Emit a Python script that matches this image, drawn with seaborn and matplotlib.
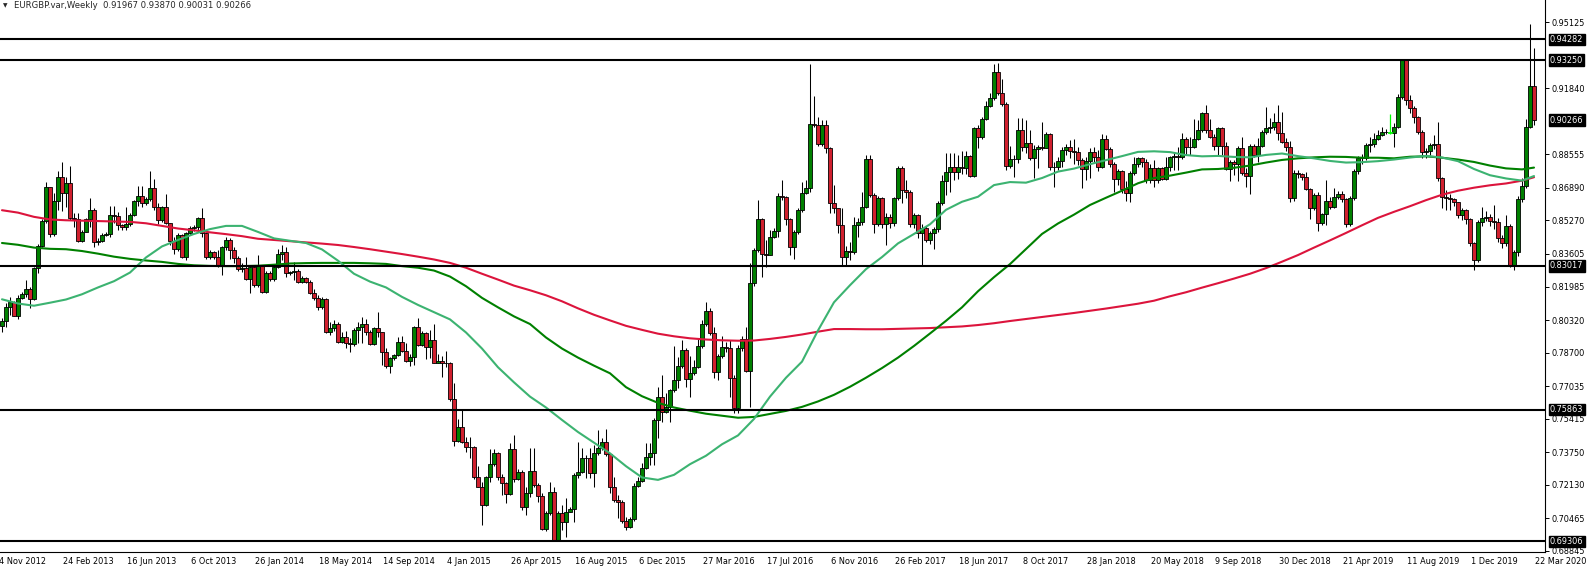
import numpy as np
import pandas as pd
import matplotlib
matplotlib.use("Agg")
import matplotlib.pyplot as plt
import matplotlib.transforms as mtransforms
import seaborn as sns

# weekly EURGBP bars, first visible bar = 0, last bar (22 Mar 2020) = 383
first_open = 0.8004
closes = [
    0.8027, 0.8095, 0.8120, 0.8053, 0.8140, 0.8161, 0.8185, 0.8136, 0.8289, 0.8402,
    0.8526, 0.8692, 0.8460, 0.8624, 0.8741, 0.8662, 0.8712, 0.8541, 0.8536, 0.8426,
    0.8471, 0.8533, 0.8579, 0.8418, 0.8425, 0.8455, 0.8460, 0.8554, 0.8550, 0.8504,
    0.8493, 0.8508, 0.8554, 0.8624, 0.8650, 0.8612, 0.8634, 0.8687, 0.8596, 0.8529,
    0.8592, 0.8513, 0.8426, 0.8383, 0.8455, 0.8347, 0.8463, 0.8491, 0.8496, 0.8538,
    0.8463, 0.8344, 0.8370, 0.8344, 0.8301, 0.8397, 0.8430, 0.8380, 0.8342, 0.8284,
    0.8292, 0.8238, 0.8294, 0.8206, 0.8300, 0.8173, 0.8267, 0.8234, 0.8297, 0.8360,
    0.8372, 0.8264, 0.8269, 0.8278, 0.8223, 0.8239, 0.8223, 0.8165, 0.8143, 0.8095,
    0.8135, 0.7971, 0.7991, 0.8011, 0.7924, 0.7946, 0.7919, 0.7911, 0.7982, 0.7996,
    0.8011, 0.7974, 0.7913, 0.7991, 0.7971, 0.7875, 0.7805, 0.7841, 0.7858, 0.7924,
    0.7879, 0.7830, 0.7846, 0.7999, 0.7908, 0.7969, 0.7900, 0.7933, 0.7820, 0.7826,
    0.7820, 0.7818, 0.7638, 0.7432, 0.7498, 0.7427, 0.7402, 0.7399, 0.7250, 0.7203,
    0.7112, 0.7250, 0.7314, 0.7369, 0.7250, 0.7223, 0.7165, 0.7389, 0.7240, 0.7278,
    0.7104, 0.7170, 0.7281, 0.7211, 0.7159, 0.6993, 0.7071, 0.7175, 0.6938, 0.7071,
    0.7029, 0.7079, 0.7091, 0.7261, 0.7274, 0.7344, 0.7346, 0.7273, 0.7369, 0.7394,
    0.7424, 0.7366, 0.7200, 0.7137, 0.7129, 0.7032, 0.7004, 0.7042, 0.7207, 0.7231,
    0.7294, 0.7349, 0.7369, 0.7535, 0.7651, 0.7576, 0.7601, 0.7684, 0.7734, 0.7803,
    0.7883, 0.7737, 0.7770, 0.7797, 0.7903, 0.8012, 0.8077, 0.7969, 0.7775, 0.7853,
    0.7896, 0.7893, 0.7745, 0.7593, 0.7891, 0.7936, 0.7780, 0.8214, 0.8380, 0.8534,
    0.8359, 0.8357, 0.8445, 0.8476, 0.8649, 0.8645, 0.8533, 0.8394, 0.8468, 0.8579,
    0.8665, 0.8687, 0.9005, 0.9002, 0.8906, 0.9002, 0.8886, 0.8612, 0.8587, 0.8504,
    0.8344, 0.8375, 0.8368, 0.8504, 0.8517, 0.8596, 0.8831, 0.8654, 0.8508, 0.8637,
    0.8508, 0.8546, 0.8513, 0.8637, 0.8790, 0.8679, 0.8667, 0.8508, 0.8554, 0.8466,
    0.8488, 0.8430, 0.8463, 0.8483, 0.8616, 0.8723, 0.8766, 0.8795, 0.8770, 0.8793,
    0.8788, 0.8848, 0.8748, 0.8985, 0.8941, 0.9032, 0.9096, 0.9134, 0.9267, 0.9163,
    0.9106, 0.8798, 0.8833, 0.8832, 0.8977, 0.8891, 0.8914, 0.8836, 0.8882, 0.8891,
    0.8889, 0.8957, 0.8791, 0.8794, 0.8823, 0.8877, 0.8894, 0.8874, 0.8869, 0.8828,
    0.8783, 0.8824, 0.8869, 0.8841, 0.8794, 0.8930, 0.8882, 0.8808, 0.8732, 0.8773,
    0.8682, 0.8665, 0.8765, 0.8806, 0.8836, 0.8819, 0.8728, 0.8786, 0.8728, 0.8786,
    0.8732, 0.8794, 0.8841, 0.8846, 0.8844, 0.8930, 0.8894, 0.8892, 0.8930, 0.8977,
    0.9060, 0.8977, 0.8940, 0.8897, 0.8985, 0.8897, 0.8781, 0.8816, 0.8808, 0.8886,
    0.8765, 0.8748, 0.8897, 0.8853, 0.8897, 0.8969, 0.8985, 0.8990, 0.9015, 0.8960,
    0.8919, 0.8890, 0.8639, 0.8761, 0.8756, 0.8745, 0.8683, 0.8591, 0.8654, 0.8513,
    0.8557, 0.8624, 0.8595, 0.8645, 0.8659, 0.8634, 0.8508, 0.8640, 0.8773, 0.8836,
    0.8839, 0.8902, 0.8905, 0.8932, 0.8952, 0.8969, 0.8965, 0.8962, 0.8993, 0.9143,
    0.9325, 0.9126, 0.9085, 0.9040, 0.8969, 0.8869, 0.8872, 0.8902, 0.8905, 0.8740,
    0.8645, 0.8640, 0.8634, 0.8617, 0.8554, 0.8579, 0.8534, 0.8413, 0.8330, 0.8521,
    0.8541, 0.8546, 0.8526, 0.8521, 0.8441, 0.8413, 0.8498, 0.8305, 0.8368, 0.8634,
    0.8700, 0.8993, 0.91967, 0.90266,
]
highs = [
    0.8040, 0.8115, 0.8148, 0.8125, 0.8156, 0.8170, 0.8231, 0.8198, 0.8297, 0.8410,
    0.8535, 0.8720, 0.8695, 0.8662, 0.8775, 0.8816, 0.8745, 0.8800, 0.8562, 0.8562,
    0.8480, 0.8541, 0.8637, 0.8587, 0.8440, 0.8465, 0.8468, 0.8599, 0.8599, 0.8570,
    0.8508, 0.8592, 0.8562, 0.8629, 0.8698, 0.8698, 0.8645, 0.8773, 0.8733, 0.8612,
    0.8600, 0.8659, 0.8516, 0.8446, 0.8465, 0.8462, 0.8471, 0.8500, 0.8505, 0.8546,
    0.8587, 0.8470, 0.8380, 0.8375, 0.8380, 0.8400, 0.8443, 0.8438, 0.8397, 0.8350,
    0.8314, 0.8347, 0.8306, 0.8300, 0.8355, 0.8305, 0.8275, 0.8275, 0.8305, 0.8383,
    0.8405, 0.8397, 0.8278, 0.8318, 0.8285, 0.8250, 0.8248, 0.8230, 0.8185, 0.8156,
    0.8145, 0.8140, 0.8024, 0.8032, 0.8020, 0.7974, 0.7979, 0.7941, 0.7991, 0.8024,
    0.8045, 0.8035, 0.7982, 0.7996, 0.8073, 0.7974, 0.7891, 0.7850, 0.7865, 0.7949,
    0.7952, 0.7916, 0.7863, 0.8002, 0.8040, 0.7975, 0.7974, 0.7982, 0.8012, 0.7863,
    0.7853, 0.7878, 0.7825, 0.7717, 0.7540, 0.7585, 0.7452, 0.7449, 0.7405, 0.7306,
    0.7225, 0.7258, 0.7389, 0.7389, 0.7377, 0.7266, 0.7228, 0.7420, 0.7460, 0.7290,
    0.7286, 0.7203, 0.7394, 0.7394, 0.7220, 0.7170, 0.7080, 0.7225, 0.7203, 0.7080,
    0.7112, 0.7145, 0.7100, 0.7269, 0.7424, 0.7394, 0.7361, 0.7394, 0.7410, 0.7485,
    0.7444, 0.7490, 0.7369, 0.7253, 0.7162, 0.7137, 0.7054, 0.7054, 0.7220, 0.7253,
    0.7319, 0.7419, 0.7419, 0.7543, 0.7701, 0.7759, 0.7671, 0.7687, 0.7903, 0.7850,
    0.7933, 0.7891, 0.7853, 0.7833, 0.7941, 0.8032, 0.8120, 0.8093, 0.7999, 0.7863,
    0.7952, 0.7924, 0.7933, 0.7759, 0.7908, 0.7954, 0.7999, 0.8317, 0.8388, 0.8629,
    0.8537, 0.8430, 0.8479, 0.8488, 0.8665, 0.8727, 0.8650, 0.8540, 0.8480, 0.8590,
    0.8720, 0.8730, 0.9305, 0.9146, 0.9040, 0.9027, 0.9027, 0.8890, 0.8703, 0.8590,
    0.8590, 0.8400, 0.8420, 0.8545, 0.8537, 0.8670, 0.8853, 0.8853, 0.8665, 0.8650,
    0.8645, 0.8563, 0.8560, 0.8645, 0.8800, 0.8800, 0.8728, 0.8680, 0.8565, 0.8560,
    0.8510, 0.8500, 0.8475, 0.8495, 0.8625, 0.8753, 0.8861, 0.8861, 0.8861, 0.8853,
    0.8870, 0.8870, 0.8853, 0.8993, 0.9000, 0.9043, 0.9123, 0.9159, 0.9305, 0.9312,
    0.9229, 0.9118, 0.8895, 0.8853, 0.9035, 0.9035, 0.9027, 0.8977, 0.8902, 0.8902,
    0.9015, 0.8969, 0.8964, 0.8819, 0.8841, 0.8894, 0.8907, 0.8927, 0.8930, 0.8891,
    0.8836, 0.8844, 0.8886, 0.8894, 0.8877, 0.8957, 0.8952, 0.8891, 0.8819, 0.8781,
    0.8778, 0.8723, 0.8775, 0.8844, 0.8844, 0.8844, 0.8831, 0.8808, 0.8828, 0.8794,
    0.8794, 0.8841, 0.8848, 0.8861, 0.8894, 0.8960, 0.8940, 0.8944, 0.9030, 0.9027,
    0.9068, 0.9101, 0.9030, 0.8957, 0.8990, 0.8990, 0.8919, 0.8828, 0.8828, 0.8897,
    0.8944, 0.8786, 0.8907, 0.8907, 0.8935, 0.8977, 0.9093, 0.9035, 0.9060, 0.9101,
    0.9065, 0.8935, 0.8922, 0.8778, 0.8776, 0.8765, 0.8770, 0.8687, 0.8664, 0.8670,
    0.8565, 0.8728, 0.8645, 0.8687, 0.8672, 0.8672, 0.8640, 0.8650, 0.8785, 0.8850,
    0.8860, 0.8910, 0.8944, 0.8960, 0.8976, 0.8990, 0.8980, 0.9055, 0.9010, 0.9155,
    0.9327, 0.9327, 0.9150, 0.9095, 0.9045, 0.8975, 0.8885, 0.8910, 0.8950, 0.9018,
    0.8745, 0.8680, 0.8660, 0.8640, 0.8620, 0.8590, 0.8585, 0.8540, 0.8420, 0.8530,
    0.8595, 0.8575, 0.8560, 0.8604, 0.8540, 0.8455, 0.8555, 0.8510, 0.8380, 0.8650,
    0.8740, 0.9030, 0.9502, 0.93870,
]
lows = [
    0.7971, 0.7999, 0.8057, 0.8050, 0.8035, 0.8138, 0.8148, 0.8090, 0.8131, 0.8267,
    0.8395, 0.8513, 0.8446, 0.8450, 0.8579, 0.8576, 0.8596, 0.8529, 0.8496, 0.8421,
    0.8421, 0.8468, 0.8496, 0.8397, 0.8405, 0.8420, 0.8448, 0.8446, 0.8513, 0.8480,
    0.8480, 0.8480, 0.8500, 0.8549, 0.8599, 0.8592, 0.8605, 0.8622, 0.8579, 0.8509,
    0.8520, 0.8508, 0.8405, 0.8360, 0.8375, 0.8340, 0.8330, 0.8455, 0.8475, 0.8471,
    0.8446, 0.8335, 0.8335, 0.8335, 0.8297, 0.8254, 0.8380, 0.8334, 0.8314, 0.8278,
    0.8272, 0.8231, 0.8168, 0.8195, 0.8198, 0.8165, 0.8165, 0.8225, 0.8225, 0.8289,
    0.8330, 0.8248, 0.8258, 0.8231, 0.8215, 0.8215, 0.8215, 0.8160, 0.8132, 0.8082,
    0.8085, 0.7965, 0.7957, 0.7977, 0.7918, 0.7916, 0.7891, 0.7875, 0.7904, 0.7916,
    0.7919, 0.7957, 0.7908, 0.7908, 0.7949, 0.7808, 0.7792, 0.7767, 0.7835, 0.7853,
    0.7875, 0.7825, 0.7803, 0.7808, 0.7903, 0.7905, 0.7836, 0.7841, 0.7817, 0.7817,
    0.7747, 0.7800, 0.7630, 0.7407, 0.7427, 0.7422, 0.7377, 0.7344, 0.7240, 0.7200,
    0.7013, 0.7105, 0.7228, 0.7306, 0.7236, 0.7162, 0.7120, 0.7162, 0.7225, 0.7235,
    0.7087, 0.7062, 0.7154, 0.7203, 0.7129, 0.6988, 0.6985, 0.7062, 0.6935, 0.6938,
    0.6988, 0.6955, 0.7075, 0.7029, 0.7248, 0.7269, 0.7245, 0.7245, 0.7200, 0.7361,
    0.7386, 0.7356, 0.7170, 0.7129, 0.7046, 0.7021, 0.6988, 0.6996, 0.7034, 0.7203,
    0.7228, 0.7289, 0.7311, 0.7311, 0.7444, 0.7526, 0.7568, 0.7526, 0.7676, 0.7692,
    0.7792, 0.7697, 0.7651, 0.7759, 0.7792, 0.7891, 0.8002, 0.7957, 0.7742, 0.7734,
    0.7841, 0.7875, 0.7651, 0.7568, 0.7571, 0.7880, 0.7772, 0.7601, 0.8203, 0.8372,
    0.8248, 0.8297, 0.8354, 0.8438, 0.8445, 0.8630, 0.8505, 0.8355, 0.8334, 0.8460,
    0.8570, 0.8660, 0.8670, 0.8990, 0.8895, 0.8895, 0.8861, 0.8566, 0.8566, 0.8463,
    0.8305, 0.8305, 0.8330, 0.8360, 0.8447, 0.8505, 0.8587, 0.8645, 0.8466, 0.8500,
    0.8490, 0.8405, 0.8490, 0.8500, 0.8630, 0.8613, 0.8640, 0.8495, 0.8490, 0.8440,
    0.8305, 0.8420, 0.8410, 0.8385, 0.8470, 0.8605, 0.8654, 0.8670, 0.8728, 0.8735,
    0.8760, 0.8760, 0.8745, 0.8745, 0.8886, 0.8930, 0.9025, 0.9090, 0.9125, 0.9150,
    0.9095, 0.8778, 0.8790, 0.8745, 0.8815, 0.8874, 0.8861, 0.8828, 0.8737, 0.8786,
    0.8877, 0.8886, 0.8778, 0.8692, 0.8778, 0.8794, 0.8853, 0.8836, 0.8808, 0.8803,
    0.8687, 0.8728, 0.8737, 0.8811, 0.8775, 0.8786, 0.8877, 0.8794, 0.8670, 0.8703,
    0.8662, 0.8625, 0.8620, 0.8753, 0.8794, 0.8794, 0.8712, 0.8712, 0.8695, 0.8712,
    0.8728, 0.8728, 0.8775, 0.8778, 0.8778, 0.8831, 0.8853, 0.8853, 0.8886, 0.8927,
    0.8969, 0.8960, 0.8935, 0.8877, 0.8853, 0.8853, 0.8778, 0.8725, 0.8753, 0.8725,
    0.8753, 0.8692, 0.8659, 0.8841, 0.8819, 0.8894, 0.8957, 0.8960, 0.8977, 0.8927,
    0.8910, 0.8870, 0.8617, 0.8625, 0.8740, 0.8730, 0.8678, 0.8534, 0.8580, 0.8475,
    0.8505, 0.8505, 0.8585, 0.8590, 0.8635, 0.8620, 0.8496, 0.8500, 0.8630, 0.8760,
    0.8810, 0.8830, 0.8869, 0.8890, 0.8925, 0.8945, 0.8955, 0.8955, 0.8894, 0.8985,
    0.9130, 0.9100, 0.9060, 0.9010, 0.8955, 0.8840, 0.8840, 0.8855, 0.8880, 0.8725,
    0.8588, 0.8580, 0.8580, 0.8600, 0.8540, 0.8530, 0.8510, 0.8400, 0.8280, 0.8320,
    0.8500, 0.8525, 0.8500, 0.8485, 0.8420, 0.8390, 0.8400, 0.8295, 0.8280, 0.8350,
    0.8620, 0.8690, 0.8985, 0.90031,
]
highlight_bar = 347  # the bar drawn in lime

# moving averages every 4 bars
ma_bars = list(range(0, 381, 4)) + [383]
ma_fast = [
    0.8135, 0.8114, 0.8103, 0.8118, 0.8134, 0.8160, 0.8194, 0.8225, 0.8268, 0.8343,
    0.8398, 0.8430, 0.8460, 0.8484, 0.8500, 0.8500, 0.8470, 0.8438, 0.8426, 0.8415,
    0.8383, 0.8327, 0.8262, 0.8223, 0.8194, 0.8147, 0.8107, 0.8071, 0.8035, 0.7970,
    0.7890, 0.7797, 0.7722, 0.7651, 0.7597, 0.7535, 0.7475, 0.7422, 0.7369, 0.7305,
    0.7249, 0.7237, 0.7262, 0.7315, 0.7357, 0.7414, 0.7458, 0.7540, 0.7651, 0.7745,
    0.7825, 0.7980, 0.8120, 0.8205, 0.8285, 0.8345, 0.8413, 0.8460, 0.8508, 0.8580,
    0.8620, 0.8645, 0.8703, 0.8718, 0.8715, 0.8738, 0.8770, 0.8785, 0.8807, 0.8827,
    0.8847, 0.8868, 0.8871, 0.8867, 0.8852, 0.8846, 0.8848, 0.8843, 0.8841, 0.8853,
    0.8860, 0.8847, 0.8836, 0.8823, 0.8815, 0.8817, 0.8822, 0.8830, 0.8840, 0.8848,
    0.8840, 0.8822, 0.8783, 0.8752, 0.8736, 0.8725, 0.8748,
]
ma_mid = [
    0.8415, 0.8406, 0.8392, 0.8386, 0.8384, 0.8375, 0.8362, 0.8347, 0.8336, 0.8328,
    0.8321, 0.8311, 0.8304, 0.8301, 0.8300, 0.8300, 0.8302, 0.8307, 0.8313, 0.8315,
    0.8316, 0.8316, 0.8316, 0.8314, 0.8311, 0.8300, 0.8292, 0.8278, 0.8248, 0.8200,
    0.8142, 0.8095, 0.8050, 0.8012, 0.7945, 0.7890, 0.7845, 0.7805, 0.7767, 0.7698,
    0.7653, 0.7620, 0.7597, 0.7581, 0.7566, 0.7556, 0.7546, 0.7550, 0.7565, 0.7580,
    0.7600, 0.7627, 0.7660, 0.7700, 0.7745, 0.7793, 0.7845, 0.7903, 0.7965, 0.8028,
    0.8095, 0.8175, 0.8245, 0.8310, 0.8385, 0.8460, 0.8512, 0.8556, 0.8604, 0.8640,
    0.8675, 0.8712, 0.8738, 0.8750, 0.8765, 0.8781, 0.8783, 0.8789, 0.8800, 0.8815,
    0.8828, 0.8836, 0.8841, 0.8844, 0.8843, 0.8839, 0.8839, 0.8836, 0.8844, 0.8846,
    0.8839, 0.8830, 0.8818, 0.8800, 0.8786, 0.8781, 0.8790,
]
ma_slow = [
    0.8578, 0.8566, 0.8545, 0.8532, 0.8528, 0.8526, 0.8524, 0.8522, 0.8520, 0.8513,
    0.8500, 0.8487, 0.8478, 0.8468, 0.8459, 0.8449, 0.8436, 0.8430, 0.8424, 0.8418,
    0.8412, 0.8405, 0.8395, 0.8384, 0.8372, 0.8360, 0.8347, 0.8333, 0.8316, 0.8292,
    0.8262, 0.8233, 0.8203, 0.8180, 0.8155, 0.8125, 0.8090, 0.8058, 0.8030, 0.8003,
    0.7983, 0.7964, 0.7951, 0.7941, 0.7935, 0.7931, 0.7929, 0.7930, 0.7938, 0.7948,
    0.7960, 0.7974, 0.7987, 0.7987, 0.7986, 0.7986, 0.7988, 0.7990, 0.7992, 0.7996,
    0.8000, 0.8007, 0.8016, 0.8027, 0.8037, 0.8047, 0.8057, 0.8067, 0.8078, 0.8089,
    0.8101, 0.8113, 0.8128, 0.8150, 0.8170, 0.8193, 0.8215, 0.8238, 0.8262, 0.8290,
    0.8322, 0.8355, 0.8392, 0.8428, 0.8465, 0.8503, 0.8540, 0.8570, 0.8598, 0.8628,
    0.8655, 0.8675, 0.8690, 0.8702, 0.8711, 0.8725, 0.8742,
]

level_values = [0.94282, 0.93250, 0.83017, 0.75863, 0.69306]
current_price = 0.90266

tick_values = [0.95125, 0.91840, 0.88555, 0.86890, 0.85270, 0.83605, 0.81985,
               0.80320, 0.78700, 0.77035, 0.75415, 0.73750, 0.72130, 0.70465, 0.68845]

date_bars = list(range(-1, 384, 16))
date_labels = ["4 Nov 2012", "24 Feb 2013", "16 Jun 2013", "6 Oct 2013", "26 Jan 2014",
               "18 May 2014", "14 Sep 2014", "4 Jan 2015", "26 Apr 2015", "16 Aug 2015",
               "6 Dec 2015", "27 Mar 2016", "17 Jul 2016", "6 Nov 2016", "26 Feb 2017",
               "18 Jun 2017", "8 Oct 2017", "28 Jan 2018", "20 May 2018", "9 Sep 2018",
               "30 Dec 2018", "21 Apr 2019", "11 Aug 2019", "1 Dec 2019", "22 Mar 2020"]

title = "EURGBP.var,Weekly  0.91967 0.93870 0.90031 0.90266"

sns.set_style("white")
plt.rcParams['font.family'] = ['DejaVu Sans']
FS = 5.9

df = pd.DataFrame({'close': closes, 'high': highs, 'low': lows})
df['open'] = [first_open] + closes[:-1]
df['bar'] = np.arange(len(df))
df['high'] = df[['high', 'open', 'close']].max(axis=1)
df['low'] = df[['low', 'open', 'close']].min(axis=1)
df['bottom'] = df[['open', 'close']].min(axis=1)
df['height'] = (df['close'] - df['open']).abs().clip(lower=0.00022)
df['fill'] = np.where(df['close'] >= df['open'], '#008000', '#D0202E')

W, H = 1588, 570
fig = plt.figure(figsize=(W / 100, H / 100), dpi=100)
ax = fig.add_axes([0, 18 / H, 1545 / W, 552 / H])

normal = df[df['bar'] != highlight_bar]
special = df[df['bar'] == highlight_bar]

# candles
ax.vlines(normal['bar'], normal['low'], normal['high'], color='black', lw=0.75, zorder=2)
ax.bar(normal['bar'], normal['height'], bottom=normal['bottom'], width=0.78,
       color=normal['fill'], edgecolor='black', linewidth=0.6, zorder=2)
ax.vlines(special['bar'], special['low'], special['high'], color='#00FF00', lw=0.9, zorder=2)
ax.bar(special['bar'], special['height'], bottom=special['bottom'], width=0.78,
       color='#00FF00', edgecolor='#00FF00', linewidth=0.6, zorder=2)

# moving averages
ma = pd.DataFrame({'bar': ma_bars, 'fast': ma_fast, 'mid': ma_mid, 'slow': ma_slow})
sns.lineplot(data=ma, x='bar', y='slow', color='#DC143C', lw=1.5, ax=ax, zorder=3)
sns.lineplot(data=ma, x='bar', y='mid', color='#008000', lw=1.5, ax=ax, zorder=3)
sns.lineplot(data=ma, x='bar', y='fast', color='#3CB371', lw=1.5, ax=ax, zorder=3)

for lv in level_values:
    ax.axhline(lv, color='black', lw=1.5, zorder=4)

ax.set_xlim(-0.5, 385.75)
ax.set_ylim(0.68783, 0.96234)
ax.set_xlabel('')
ax.set_ylabel('')

for side in ['top', 'left']:
    ax.spines[side].set_visible(False)
for side in ['right', 'bottom']:
    ax.spines[side].set_color('black')
    ax.spines[side].set_linewidth(0.8)

# price scale on the right
ax.yaxis.tick_right()
ax.set_yticks(tick_values)
ax.set_yticklabels([f"{v:.5f}" for v in tick_values])
ax.tick_params(axis='y', direction='out', length=2.9, width=0.7, pad=2,
               labelsize=FS, colors='black', right=True, left=False)

blend_y = mtransforms.blended_transform_factory(ax.transAxes, ax.transData)
for lv in level_values + [current_price]:
    ax.annotate(f"{lv:.5f}", xy=(1.0, lv), xycoords=blend_y, xytext=(5, 0),
                textcoords='offset pixels', ha='left', va='center', color='white',
                fontsize=FS, annotation_clip=False, zorder=10,
                bbox=dict(boxstyle='square,pad=0.15', fc='black', ec='black'))

# time scale
ax.set_xticks([b for b in date_bars if b >= 0])
ax.set_xticklabels([])
ax.tick_params(axis='x', direction='out', length=2.9, width=0.7, colors='black')
blend_x = mtransforms.blended_transform_factory(ax.transData, ax.transAxes)
shift = mtransforms.ScaledTranslation(1 / 100, 0, fig.dpi_scale_trans)
for b, lab in zip(date_bars, date_labels):
    ax.text(b, -10 / 552, lab, transform=blend_x + shift, ha='left', va='center',
            fontsize=FS, color='black', clip_on=False)

fig.text(3 / W, 1 - 6 / H, '\u25bc', fontsize=4.2, ha='left', va='center')
fig.text(14 / W, 1 - 6 / H, title, fontsize=6.1, ha='left', va='center')

fig.savefig('out.png', dpi=100, facecolor='white')
